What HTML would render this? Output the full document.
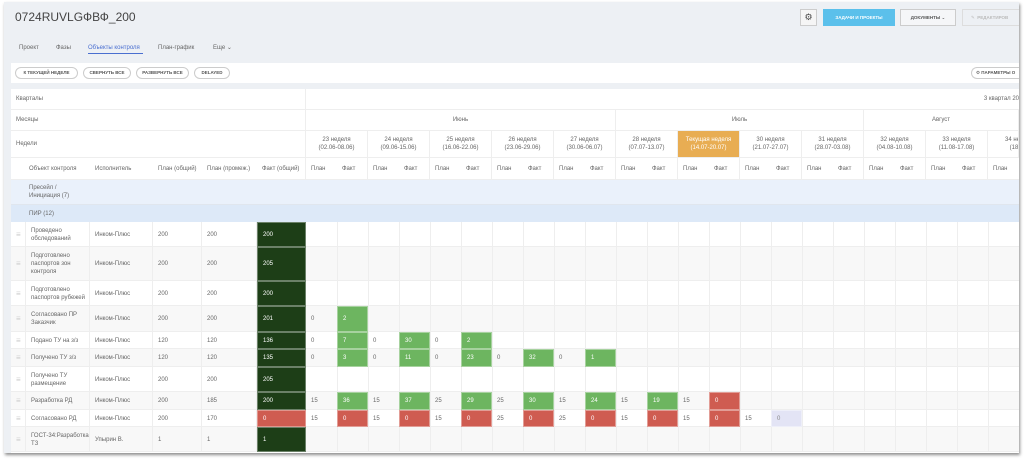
<!DOCTYPE html>
<html><head><meta charset="utf-8">
<style>
*{box-sizing:border-box;margin:0;padding:0}
body{width:1024px;height:461px;background:#fff;font-family:"Liberation Sans","DejaVu Sans",sans-serif;position:relative;overflow:hidden;color:#555}
#card{position:absolute;left:4px;top:2px;width:1015px;height:451px;background:#edf0f4;box-shadow:1px 2px 3px rgba(0,0,0,.45);overflow:hidden}
.a{position:absolute}
.t{position:absolute;font-size:6px;color:#666;white-space:nowrap;line-height:8px}
.pill{position:absolute;top:67px;height:12px;border:1px solid #ccc;border-radius:7px;font-size:4.5px;color:#555;text-align:center;line-height:10px;background:#fff;font-weight:bold;overflow:hidden;white-space:nowrap}
.c{position:absolute;font-size:6px;line-height:8px;padding-left:5px;display:flex;align-items:center;color:#666;overflow:hidden}
</style></head><body>
<div id="card"></div>
<div class="a" style="left:15px;top:10px;font-size:12px;color:#444">0724RUVLGФВФ_200</div>
<div class="t" style="left:19px;top:44px">Проект</div>
<div class="t" style="left:56px;top:44px">Фазы</div>
<div class="t" style="left:88px;top:44px;color:#4a6fd0">Объекты контроля</div>
<div class="a" style="left:88px;top:53px;width:55px;height:1px;background:#4a6fd0"></div>
<div class="t" style="left:158px;top:44px">План-график</div>
<div class="t" style="left:213px;top:44px">Еще ⌄</div>
<div class="a" style="left:800px;top:9px;width:17px;height:17px;border:1px solid #ccc;background:#f5f5f5;font-size:9px;text-align:center;line-height:15px;color:#444">⚙</div>
<div class="a" style="left:823px;top:9px;width:72px;height:17px;background:#5bc0eb;color:#fff;font-size:4.5px;font-weight:bold;text-align:center;line-height:17px">ЗАДАЧИ И ПРОЕКТЫ</div>
<div class="a" style="left:900px;top:9px;width:56px;height:17px;border:1px solid #ccc;background:#f5f6f8;color:#555;font-size:4.5px;font-weight:bold;text-align:center;line-height:15px">ДОКУМЕНТЫ ⌄</div>
<div class="a" style="left:962px;top:9px;width:57px;height:17px;border:1px solid #ddd;border-right:none;color:#bbb;font-size:4.5px;font-weight:bold;line-height:15px;padding-left:8px;overflow:hidden;white-space:nowrap">✎ &nbsp;РЕДАКТИРОВ</div>
<div class="a" style="left:11px;top:63px;width:1008px;height:20px;background:#fff"></div>
<div class="pill" style="left:15px;width:63px">К ТЕКУЩЕЙ НЕДЕЛЕ</div>
<div class="pill" style="left:83px;width:48px">СВЕРНУТЬ ВСЕ</div>
<div class="pill" style="left:136px;width:53px">РАЗВЕРНУТЬ ВСЕ</div>
<div class="pill" style="left:194px;width:36px">DELAYED</div>
<div class="pill" style="left:971px;width:48px;text-align:left;padding-left:4px;border-right:none;border-radius:7px 0 0 7px">⚙ ПАРАМЕТРЫ О</div>
<div id="tbl" class="a" style="left:11px;top:89px;width:1008px;height:364px;background:#fff"></div>
<script>
const weeks=["23 неделя|(02.06-08.06)","24 неделя|(09.06-15.06)","25 неделя|(16.06-22.06)","26 неделя|(23.06-29.06)","27 неделя|(30.06-06.07)","28 неделя|(07.07-13.07)","Текущая неделя|(14.07-20.07)","30 неделя|(21.07-27.07)","31 неделя|(28.07-03.08)","32 неделя|(04.08-10.08)","33 неделя|(11.08-17.08)","34 неделя|(18.08-"];
const names=["Проведено обследований","Подготовлено паспортов зон контроля","Подготовлено паспортов рубежей","Согласовано ПР Заказчик","Подано ТУ на з/з","Получено ТУ з/з","Получено ТУ размещение","Разработка РД","Согласовано РД","ГОСТ-34:Разработка ТЗ"];
const execs=["Инком-Плюс","Инком-Плюс","Инком-Плюс","Инком-Плюс","Инком-Плюс","Инком-Плюс","Инком-Плюс","Инком-Плюс","Инком-Плюс","Упырин В."];
const planTotal=[200,200,200,200,120,120,200,200,200,1];
const planInter=[200,200,200,200,120,120,200,185,170,1];
const factTotal=[200,205,200,201,136,135,205,200,0,1];
const weekPlan=[[],[],[],[0],[0,0,0],[0,0,0,0,0],[],[15,15,25,25,15,15,15],[15,15,15,25,25,15,15,15],[]];
const weekFact=[[],[],[],[2],[7,30,2],[3,11,23,32,1],[],[36,37,29,30,24,19,0],[0,0,0,0,0,0,0,0],[]];
const rowH=[25,34,25,26,17,18,25,18,17,25];
const currentWeek=6;
const B=document.body;
const RIGHT=1019;
function el(cls,x,y,w,h,html,name,inter,style){
 if(x+w>RIGHT)w=RIGHT-x;
 if(w<=0)return null;
 const d=document.createElement('div');d.className=cls;d.style.cssText=`left:${x}px;top:${y}px;width:${w}px;height:${h}px;`+(style||'');d.innerHTML=html;
 
 
 B.appendChild(d);return d;}
const X0=306,WW=62;
const grid='border-right:1px solid #eee;border-bottom:1px solid #eee;';
el('c',11,89,295,21,'Кварталы','quarters-label',false,grid);
el('c',306,89,713,21,'<span style="margin-left:auto;white-space:nowrap">3 квартал 20</span>','quarter-3',false,'border-bottom:1px solid #eee;');
el('c',11,110,295,21,'Месяцы','months-label',false,grid);
const months=[["Июнь",0,5],["Июль",5,9],["Август",9,12.6]];
months.forEach(m=>el('c',X0+m[1]*WW,110,(m[2]-m[1])*WW,21,`<span style="margin:auto">${m[0]}</span>`,'month-'+m[0],false,grid+'padding:0;'));
el('c',11,131,295,27,'Недели','weeks-label',false,grid);
weeks.forEach((w,i)=>{const p=w.split('|');const cur=i===currentWeek;
el('c',X0+i*WW,131,WW,27,`<span style="margin:${i==11?'auto 0 auto 17px':'auto'};text-align:center;white-space:nowrap">${p[0]}<br>${p[1]}</span>`,'week-header-'+i,true,grid+'padding:0;'+(cur?'background:#e8ad53;color:#fff;':''));
el('c',X0+i*WW,158,31,22,'План','week-plan-header',false,'border-bottom:1px solid #eee;');
el('c',X0+i*WW+31,158,31,22,'Факт','week-fact-header',false,grid);});
const cols=[[11,79,'Объект контроля'],[90,63,'Исполнитель'],[153,49,'План (общий)'],[202,55,'План (промеж.)'],[257,49,'Факт (общий)']];
cols.forEach((c,i)=>el('c',c[0],158,c[1],22,c[2],'column-header-'+i,false,'border-bottom:1px solid #eee;'+(i==0?'padding-left:18px;':'')+(i==4?'border-right:1px solid #eee;':'')));
el('c',11,180,1008,25,'<span style="margin-left:13px">Пресейл /<br>Инициация (7)</span>','group-presale',true,'background:#eaf1fb;border-bottom:1px solid #e0e6ee;');
el('c',11,205,1008,17,'<span style="margin-left:13px">ПИР (12)</span>','group-pir',true,'background:#dde9f8;');
let y=222;
names.forEach((n,r)=>{const h=rowH[r];const bg=r%2?'#f8f8f8':'#fff';
el('c',11,y,1008,h,'','row-bg',false,'background:'+bg+';border-bottom:1px solid #eee;');
el('c',11,y,15,h,'<span style="color:#ccc;font-size:8px">≡</span>','drag-handle',true,'border-right:1px solid #eee;');
el('c',26,y,64,h,n,'object-name',false,'border-right:1px solid #eee;white-space:normal;padding-right:2px;');
el('c',90,y,63,h,execs[r],'executor',false,'border-right:1px solid #eee;');
el('c',153,y,49,h,planTotal[r],'plan-total',false,'border-right:1px solid #eee;');
el('c',202,y,55,h,planInter[r],'plan-intermediate',false,'border-right:1px solid #eee;');
const ft=factTotal[r];
el('c',257,y,49,h,ft,'fact-total',false,'color:#fff;border:1px solid rgba(255,255,255,.35);background:'+(ft<planInter[r]?'#cf5c51':'#1d3e17')+';');
for(let i=0;i<weeks.length;i++){
 el('c',X0+i*WW+31,y,1,h,'','grid-line',false,'background:#eee;padding:0;');
 el('c',X0+i*WW+62,y,1,h,'','grid-line',false,'background:#eee;padding:0;');}
weekPlan[r].forEach((p,i)=>{const f=weekFact[r][i];
 el('c',X0+i*WW,y,31,h,p,'week-plan-value',false,'');
 let c=f>=p?'#6db560':'#cf5c51',tc='#fff';
 if(r===8&&i===7){c='#e3e4f5';tc='#888';}
 el('c',X0+i*WW+31,y,31,h,f,'week-fact-value',false,'background:'+c+';color:'+tc+';border:1px solid rgba(255,255,255,.4);');});
y+=h;});
</script>
</body></html>
